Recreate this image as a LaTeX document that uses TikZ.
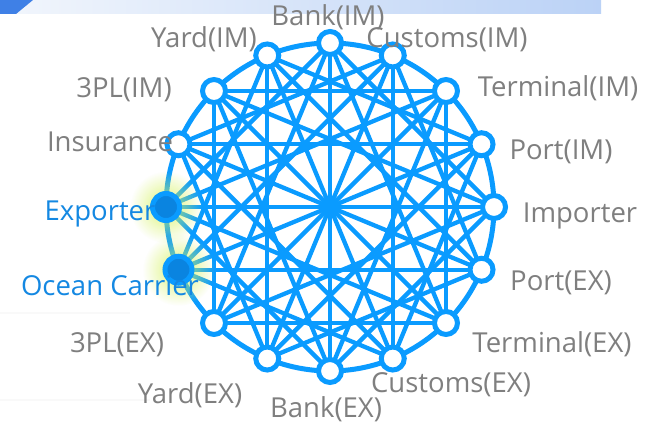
\documentclass[tikz,border=0pt]{standalone}
\usepackage{fontspec}
\setmainfont{Open Sans}
\usetikzlibrary{fadings}
\definecolor{edgeblue}{HTML}{0A9BFF}
\definecolor{nodedark}{HTML}{0A84E0}
\definecolor{labgray}{HTML}{7F7F7F}
\definecolor{labblue}{HTML}{1488E2}
\definecolor{glowc}{HTML}{D4F25A}
\definecolor{barL}{HTML}{F2F6FC}
\definecolor{barR}{HTML}{BBD2F6}
\definecolor{barDark}{HTML}{3F80E6}
\tikzfading[name=glowfade, inner color=transparent!0, outer color=transparent!100]
\pgfdeclarelayer{bg}
\pgfdeclarelayer{edges}
\pgfdeclarelayer{glowl}
\pgfsetlayers{bg,edges,glowl,main}
\tikzset{
  edge/.style={draw=edgeblue, line width=4.3pt},
  wnode/.style={circle, draw=edgeblue, fill=white, line width=5pt, minimum size=23pt, inner sep=0pt},
  hnode/.style={circle, draw=edgeblue, fill=nodedark, line width=5pt, minimum size=27pt, inner sep=0pt},
  lab/.style={text=labgray, font=\fontsize{27.5}{31}\selectfont, inner sep=0pt, text height=21pt, text depth=6pt, anchor=center},
  hlab/.style={lab, text=labblue}
}
\begin{document}
\begin{tikzpicture}[x=1pt,y=1pt]
\useasboundingbox (0,0) rectangle (652,428);
\begin{pgfonlayer}{bg}
  \fill[white] (0,0) rectangle (652,428);
  \shade[left color=barL, right color=barR] (0,414) rectangle (601,428);
  \fill[barDark] (0,428) -- (33,428) -- (16,414) -- (0,414) -- cycle;
  \fill[black!2.5] (0,114) rectangle (130,116);
  \fill[black!2.5] (0,27) rectangle (150,29);
\end{pgfonlayer}
% nodes
\foreach \k in {0,...,15}{
  \pgfmathsetmacro\ang{90-22.5*\k}
  \ifnum\k=11
    \node[hnode] (n\k) at ({330+164*cos(\ang)}, {221+164*sin(\ang)}) {};
  \else\ifnum\k=12
    \node[hnode] (n\k) at ({330+164*cos(\ang)}, {221+164*sin(\ang)}) {};
  \else
    \node[wnode] (n\k) at ({330+164*cos(\ang)}, {221+164*sin(\ang)}) {};
  \fi\fi
}
\begin{pgfonlayer}{edges}
  \draw[edge, line width=5pt] (330,221) circle (164);
  \foreach \i in {0,...,15}{
    \foreach \s in {4,6}{
      \pgfmathtruncatemacro\j{mod(\i+\s,16)}
      \draw[edge] (n\i.center) -- (n\j.center);
    }
  }
  \foreach \i in {0,...,7}{
    \pgfmathtruncatemacro\j{\i+8}
    \draw[edge] (n\i.center) -- (n\j.center);
  }
\end{pgfonlayer}
\begin{pgfonlayer}{glowl}
  \fill[glowc, opacity=0.85, path fading=glowfade] (n12) circle (36);
  \fill[glowc, opacity=0.85, path fading=glowfade] (n11) circle (36);
\end{pgfonlayer}
% labels
\node[lab] (l0) at (328,410) {Bank(IM)};
\node[lab] (l1) at (447,388) {Customs(IM)};
\node[lab] (l2) at (558,339) {Terminal(IM)};
\node[lab] (l3) at (561,276) {Port(IM)};
\node[lab] (l4) at (580,213) {Importer};
\node[lab] (l5) at (561,145) {Port(EX)};
\node[lab] (l6) at (552,83) {Terminal(EX)};
\node[lab] (l7) at (451,43) {Customs(EX)};
\node[lab] (l8) at (326,18) {Bank(EX)};
\node[lab] (l9) at (190,32) {Yard(EX)};
\node[lab] (l10) at (117,83) {3PL(EX)};
\node[hlab] (l11) at (110,140) {Ocean Carrier};
\node[hlab] (l12) at (100,215) {Exporter};
\node[lab] (l13) at (110,284) {Insurance};
\node[lab] (l14) at (124,338) {3PL(IM)};
\node[lab] (l15) at (204,388) {Yard(IM)};
\end{tikzpicture}
\end{document}
